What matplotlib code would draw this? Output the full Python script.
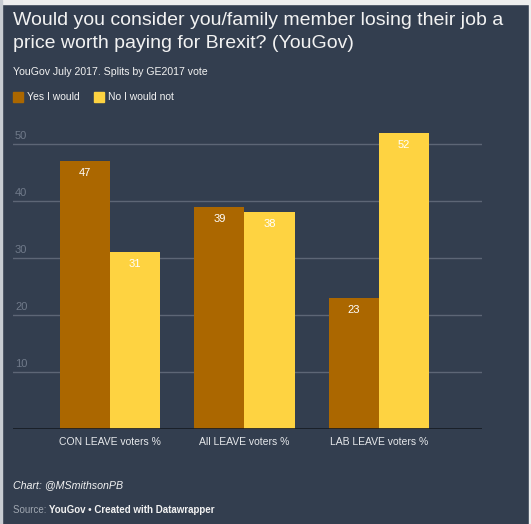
import numpy as np
import matplotlib
matplotlib.use('Agg')
import matplotlib.pyplot as plt
from matplotlib.patches import Rectangle

plt.rcParams['font.family'] = ['Liberation Sans', 'DejaVu Sans']

# data
groups = ['CON LEAVE voters %', 'All LEAVE voters %', 'LAB LEAVE voters %']
yes_would = [47, 39, 23]
no_would_not = [31, 38, 52]
series_names = ['Yes I would', 'No I would not']
y_ticks = [10, 20, 30, 40, 50]

bg = '#333e4f'
c_yes = '#ab6700'
c_no = '#fed341'
W, H = 531, 524


def fx(px):
    return px / W


def fy(py):
    return 1 - py / H


fig = plt.figure(figsize=(W / 100, H / 100), dpi=100, facecolor=bg)
# screenshot edges
fig.patches.append(Rectangle((0, fy(4)), 1, 4 / H, transform=fig.transFigure,
                             color='#eeeeee', zorder=0))
fig.patches.append(Rectangle((0, 0), 2 / W, 1, transform=fig.transFigure,
                             color='#c8ccd2', zorder=0))
fig.patches.append(Rectangle((1 - 2 / W, 0), 2 / W, 1, transform=fig.transFigure,
                             color='#eeeeee', zorder=0))

ax = fig.add_axes([fx(13), 95 / H, fx(482) - fx(13), (429 - 115.5) / H])
ax.set_facecolor(bg)

ind = np.arange(len(groups))
width = 0.375
b1 = ax.bar(ind - width / 2, yes_would, width, color=c_yes, zorder=3)
b2 = ax.bar(ind + width / 2, no_would_not, width, color=c_no, zorder=3)

for bars, vals in [(b1, yes_would), (b2, no_would_not)]:
    for bar, v in zip(bars, vals):
        ax.annotate(str(v), (bar.get_x() + bar.get_width() / 2, v),
                    xytext=(0, -12), textcoords='offset pixels',
                    ha='center', va='center', color='white', fontsize=8, zorder=4)

ax.set_xlim(-0.721, 2.766)
ax.set_ylim(0, 55)
for t in y_ticks:
    ax.axhline(t, color='#5d6676', lw=1, zorder=1)
    ax.annotate(str(t), (0, t), xycoords=('axes fraction', 'data'),
                xytext=(2, 8), textcoords='offset pixels',
                ha='left', va='center', color='#707a8a', fontsize=8)
ax.axhline(0, color='#151a22', lw=1.2, zorder=5)

ax.set_xticks(ind)
ax.set_xticklabels(groups, color='#e6e8eb', fontsize=7.5)
ax.tick_params(axis='x', length=0, pad=6)
ax.set_yticks([])
for s in ax.spines.values():
    s.set_visible(False)

fig.text(fx(13), fy(32), 'Would you consider you/family member losing their job a\n'
         'price worth paying for Brexit? (YouGov)', ha='left', va='center',
         color='#f2f2f2', fontsize=14, linespacing=1.4)
fig.text(fx(13), fy(72), 'YouGov July 2017. Splits by GE2017 vote', ha='left',
         va='center', color='#f2f2f2', fontsize=7.6)

# legend
lx = [13, 94]
for x0, name, col in zip(lx, series_names, [c_yes, c_no]):
    fig.patches.append(Rectangle((fx(x0), fy(102)), 10 / W, 10 / H,
                                 transform=fig.transFigure, color=col))
    fig.text(fx(x0 + 14), fy(97), name, ha='left', va='center',
             color='#f2f2f2', fontsize=7.5)

fig.text(fx(13), fy(485), 'Chart: @MSmithsonPB', ha='left', va='center',
         color='#f2f2f2', fontsize=7.7, style='italic')
t = fig.text(fx(13), fy(510), 'Source: ', ha='left', va='center',
             color='#a0a7b1', fontsize=7)
fig.canvas.draw()
bb = t.get_window_extent()
fig.text(bb.x1 / W, fy(510), 'YouGov • Created with Datawrapper', ha='left',
         va='center', color='#f2f2f2', fontsize=7, fontweight='bold')

fig.savefig('out.png', dpi=100, facecolor=bg)
